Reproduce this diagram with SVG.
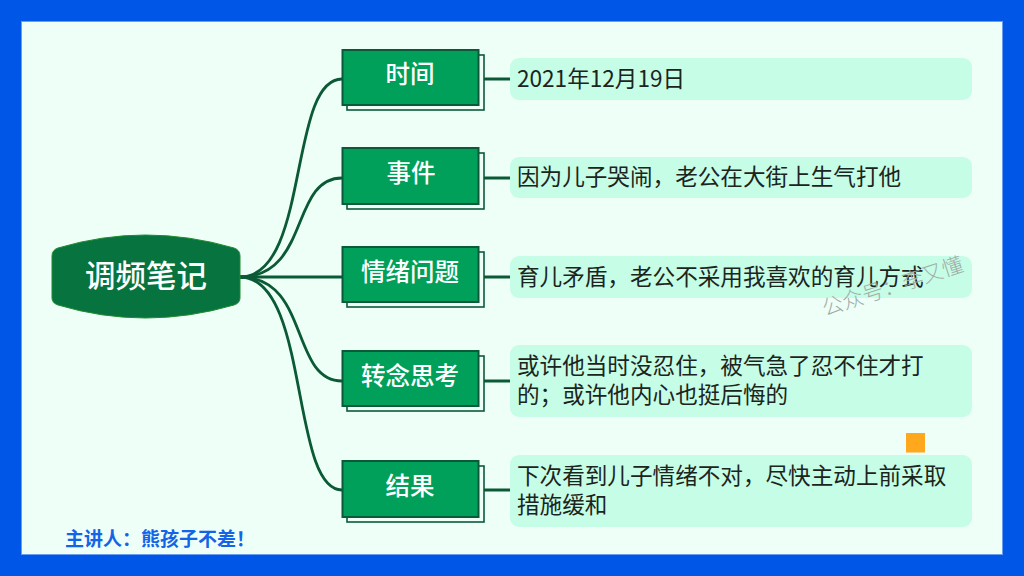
<svg xmlns="http://www.w3.org/2000/svg" width="1024" height="576" viewBox="0 0 1024 576">
<style>
text{font-family:"Noto Sans CJK SC","Liberation Serif",sans-serif}
.c{fill:none;stroke:#0a5a36;stroke-width:2.800}
.n{fill:#00a05a;stroke:#0a5a3a;stroke-width:2}
.s{fill:#eefff7;stroke:#0a5a3a;stroke-width:1.6}
.l{fill:#fff;font-size:24.500px;text-anchor:middle;font-weight:500}
.b{fill:#c6fde6}
.t{fill:#1c2420;font-size:22.600px}
</style>
<rect width="1024" height="576" fill="#0057e7"/>
<rect x="21.500" y="21.500" width="981" height="533" fill="#eefff7" stroke="#6a9cf0" stroke-width="1"/>
<g id="connectors">
<path class="c" d="M240 277C310 277 288 79 342 79"/>
<path class="c" d="M240 277C310 277 290 178 342 178"/>
<path class="c" d="M240 277H342"/>
<path class="c" d="M240 277C310 277 290 381 342 381"/>
<path class="c" d="M240 277C310 277 290 490 342 490"/>
<path class="c" d="M484 79H510M484 178H510M484 277H510M484 381H510M484 490H510"/>
</g>
<g id="root">
<path d="M58 248Q145 222 234 248Q240 250 240 256V298Q240 303 234 305Q145 331 58 305Q52 303 52 298V256Q52 250 58 248Z" fill="#077440" stroke="#1f8a2e" stroke-width="1"/>
<text x="146" y="287" fill="#fff" font-size="30.500" font-weight="500" text-anchor="middle">调频笔记</text>
</g>
<g id="n1"><rect class="s" x="347" y="55" width="137" height="55"/><rect class="n" x="342.500" y="50" width="136" height="55"/><text class="l" x="410" y="83">时间</text></g>
<g id="n2"><rect class="s" x="347" y="153" width="137" height="56"/><rect class="n" x="342.500" y="148" width="136" height="56"/><text class="l" x="411" y="182">事件</text></g>
<g id="n3"><rect class="s" x="347" y="252" width="137" height="55"/><rect class="n" x="342.500" y="247" width="136" height="55"/><text class="l" x="410" y="281">情绪问题</text></g>
<g id="n4"><rect class="s" x="347" y="356" width="137" height="55"/><rect class="n" x="342.500" y="351" width="136" height="55"/><text class="l" x="410" y="385">转念思考</text></g>
<g id="n5"><rect class="s" x="347" y="466" width="137" height="56"/><rect class="n" x="342.500" y="461" width="136" height="56"/><text class="l" x="410" y="495">结果</text></g>
<g id="d1"><rect class="b" x="510" y="58" width="462" height="42" rx="9"/><text class="t" x="517" y="87">2021年12月19日</text></g>
<g id="d2"><rect class="b" x="510" y="157" width="462" height="41" rx="9"/><text class="t" x="517" y="185">因为儿子哭闹，老公在大街上生气打他</text></g>
<g id="d3"><rect class="b" x="510" y="256" width="462" height="42" rx="9"/><text class="t" x="517" y="285">育儿矛盾，老公不采用我喜欢的育儿方式</text></g>
<g id="d4"><rect class="b" x="510" y="345" width="462" height="72" rx="9"/><text class="t" x="517" y="374">或许他当时没忍住，被气急了忍不住才打</text><text class="t" x="517" y="403">的；或许他内心也挺后悔的</text></g>
<g id="d5"><rect class="b" x="510" y="455" width="462" height="72" rx="9"/><text class="t" x="517" y="484">下次看到儿子情绪不对，尽快主动上前采取</text><text class="t" x="517" y="513">措施缓和</text></g>
<text x="825" y="316" transform="rotate(-18 825 316)" fill="#a0aca6" font-size="21" font-weight="300">公众号：李又懂</text>
<rect x="906" y="433" width="19" height="19.500" fill="#ffa81e"/>
<text x="65" y="546" fill="#1464e8" font-size="19px" font-weight="700">主讲人：熊孩子不差！</text>
</svg>
